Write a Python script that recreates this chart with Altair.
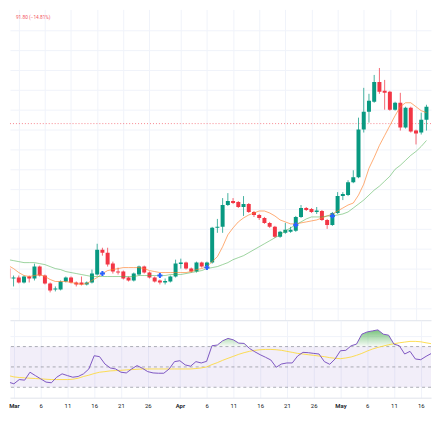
import altair as alt
import pandas as pd

# ---- data (daily candles, 2024-02-28 .. 2024-05-18) ----
dates = [d.strftime("%Y-%m-%d") for d in pd.date_range("2024-02-28", "2024-05-18", freq="D")]

open_ = [60, 50, 51, 46, 52, 50, 62, 53, 45, 39,
         39, 47, 51, 46, 46, 44, 46, 54, 79, 76,
         65, 57, 57, 51, 48, 54, 62, 56, 51, 48,
         46, 47, 52, 64.5, 66, 60, 57, 66, 62, 66,
         101, 102, 124, 128, 127, 122, 125, 117, 114, 111,
         106, 102, 92, 96, 97, 98, 112, 121, 120, 117,
         118, 109, 104, 116, 133, 134, 147, 152, 200, 218,
         228, 248, 239, 238, 220, 227, 202, 222, 199, 197,
         210]
high = [62, 53, 53, 53, 53, 65, 63, 54, 46, 42,
        48, 52, 52, 47, 52, 47, 59, 85, 81, 81,
        67, 61, 58, 52, 56, 63, 63, 57, 52, 49,
        50, 53, 69, 70, 67, 61, 67, 67, 67, 102,
        110, 131, 136, 131, 128, 133, 126, 118, 115, 112,
        107, 103, 98, 106, 102, 113, 124, 122, 121, 122,
        119, 110, 117, 137, 137, 149, 159, 212, 242, 236,
        255, 262, 250, 239, 228, 237, 223, 223, 200, 217,
        225]
low = [48, 42, 45, 45, 46, 48, 52, 44, 36, 37,
       38, 46, 45, 42, 43, 43, 45, 53, 73, 62,
       55, 54, 49, 47, 47, 53, 55, 50, 46, 44,
       44, 46, 51, 60, 59, 56, 56, 61, 61, 65,
       96, 96, 123, 125, 121, 113, 116, 112, 109, 105,
       101, 91, 91, 95, 96, 97, 111, 118, 116, 115,
       108, 100, 103, 115, 129, 133, 146, 151, 197, 207,
       227, 236, 220, 219, 219, 199, 201, 197, 185, 195,
       199]
close = [50, 51, 46, 52, 50, 62, 53, 45, 38, 40,
         47, 51, 46, 44, 44, 46, 55, 79, 76, 64,
         57, 56, 50, 48, 55, 62, 56, 51, 47, 46,
         47.5, 52, 65, 66, 60, 57, 66, 62, 66, 101,
         102, 124, 128, 126, 122, 125, 117, 114, 111, 106,
         102, 92, 97, 99, 99, 112, 121, 119, 117, 118.5,
         109, 104, 116, 133, 135, 147, 152, 200, 218, 229,
         248, 238, 237, 220, 227, 202, 222, 198, 196, 210,
         223]
ma_fast = [63, 60, 56, 53, 52, 53, 54, 52, 49, 47,
           47, 47, 46, 45, 44, 45, 48, 51, 55, 58,
           59, 60, 61, 61, 61, 61, 60, 58, 57, 56,
           56, 56, 56, 56, 56, 57, 59, 60, 62, 67,
           72, 82, 94, 101, 107, 111, 114, 116, 118, 118,
           116, 113, 109, 107, 105, 105, 106, 107, 108, 109,
           111, 113, 115, 118, 121, 124, 126, 134, 145, 161,
           172, 184, 194, 204, 214, 223, 227, 227, 223, 219,
           217]
ma_slow = [69, 68, 67, 66, 66, 66, 65, 64, 62, 60,
           59, 57, 56, 55, 54, 53, 52, 52, 52, 52,
           52, 52, 52, 52, 52, 53, 53, 53, 53, 53,
           53, 54, 54, 54, 55, 56, 57, 58, 60, 61,
           62, 64, 66, 69, 71, 73, 76, 79, 82, 85,
           88, 91, 94, 98, 101, 104, 107, 110, 112, 112,
           112, 113, 113, 114, 115, 117, 121, 125, 129, 134,
           139, 143, 148, 153, 160, 164, 169, 174, 178, 183,
           189]
rsi = [35.4, 35.1, 33.4, 37.6, 37.0, 44.8, 41.5, 38.3, 35.1, 34.4,
       39.9, 43.2, 41.5, 39.9, 40.6, 43.2, 48.0, 61.0, 60.1, 52.9,
       49.0, 48.0, 44.8, 44.1, 48.0, 51.3, 48.7, 45.4, 44.1, 43.8,
       43.8, 48.0, 55.2, 56.1, 52.0, 50.7, 55.2, 53.9, 55.5, 70.8,
       71.5, 75.7, 78.0, 76.6, 73.4, 73.1, 68.2, 64.9, 62.0, 59.5,
       56.8, 49.7, 52.9, 53.9, 53.9, 60.7, 64.3, 64.0, 63.3, 62.7,
       55.2, 52.6, 57.8, 65.9, 66.3, 70.8, 72.4, 82.2, 84.4, 85.4,
       86.4, 82.2, 81.2, 72.4, 70.8, 62.7, 65.3, 57.8, 57.1, 60.4,
       63.3]
rsi_ma = [42.9, 41.5, 40.2, 39.6, 39.3, 38.9, 38.6, 38.3, 37.9, 37.6,
          37.6, 37.6, 37.6, 37.9, 38.9, 40.6, 41.9, 43.5, 44.8, 45.4,
          46.1, 46.4, 46.7, 47.1, 47.4, 47.7, 48.0, 48.0, 48.0, 48.0,
          48.0, 48.0, 48.0, 48.0, 48.0, 48.0, 48.4, 49.0, 50.0, 52.3,
          54.2, 56.5, 58.5, 60.4, 62.4, 64.0, 65.3, 66.3, 66.9, 67.2,
          67.2, 66.9, 66.3, 65.3, 64.3, 63.3, 62.7, 62.0, 61.4, 60.7,
          60.1, 59.1, 58.5, 58.1, 58.8, 59.8, 61.4, 63.3, 65.6, 67.6,
          69.2, 70.5, 71.8, 72.8, 73.7, 74.4, 75.1, 75.1, 74.7, 73.7,
          72.8]

cross_dates = ["2024-03-17", "2024-03-28", "2024-04-06", "2024-04-23", "2024-04-30"]
cross_values = [55, 53, 61, 104, 113]

last_price = [206]
header_date = ["2024-02-29T06:25:00Z"]
header_price = [312]
header_text = ["91.80 (\u221214.81%)"]

tick_dates = ["2024-03-01", "2024-03-06", "2024-03-11", "2024-03-16", "2024-03-21", "2024-03-26",
              "2024-04-01", "2024-04-06", "2024-04-11", "2024-04-16", "2024-04-21", "2024-04-26",
              "2024-05-01", "2024-05-06", "2024-05-11", "2024-05-16"]
price_grid = list(range(20, 320, 20))
rsi_levels = [70, 50, 30]

# ---- chart ----
GREEN = "#089981"
RED = "#f23645"
GRID = "#f0f3fa"
FONT = "Roboto"

df = pd.DataFrame({"date": dates, "open": open_, "high": high, "low": low, "close": close,
                   "ma_fast": ma_fast, "ma_slow": ma_slow, "rsi": rsi, "rsi_ma": rsi_ma})
crosses = pd.DataFrame({"date": cross_dates, "value": cross_values})
price_line = pd.DataFrame({"price": last_price})
header = pd.DataFrame({"date": header_date, "price": header_price, "label": header_text})
band = pd.DataFrame({"top": [70], "bottom": [30]})
levels = pd.DataFrame({"level": rsi_levels})


def dt(s):
    y, m, d = (int(v) for v in s.split("-"))
    return alt.DateTime(year=y, month=m, date=d, utc=True)


ticks = [dt(s) for s in tick_dates]
x_scale = alt.Scale(type="utc", nice=False,
                    domain=[alt.DateTime(year=2024, month=2, date=29, hours=6, minutes=25, utc=True),
                            alt.DateTime(year=2024, month=5, date=17, hours=22, minutes=5, utc=True)])

x_top = alt.X("date:T", scale=x_scale, title=None,
              axis=alt.Axis(values=ticks, labels=False, ticks=False, grid=True, gridColor=GRID,
                            domain=True, domainColor="#e0e3eb"))
y_price_scale = alt.Scale(domain=[8, 321], nice=False, zero=False)
y_axis = alt.Axis(values=price_grid, labels=False, ticks=False, domain=False, grid=True,
                  gridColor=GRID, title=None)

candle_color = alt.when(alt.datum.close >= alt.datum.open).then(alt.value(GREEN)).otherwise(alt.value(RED))

base = alt.Chart(df)
wicks = base.mark_rule(strokeWidth=1, clip=True, opacity=0.75).encode(
    x=x_top,
    y=alt.Y("low:Q", scale=y_price_scale, axis=y_axis),
    y2="high:Q",
    color=candle_color,
)
bodies = base.mark_bar(size=4, clip=True).encode(
    x=x_top,
    y=alt.Y("open:Q", scale=y_price_scale, axis=y_axis),
    y2="close:Q",
    color=candle_color,
)
fast_line = base.mark_line(strokeWidth=1, clip=True, color="#ff7f2a", opacity=0.65).encode(
    x=x_top, y=alt.Y("ma_fast:Q", scale=y_price_scale, axis=y_axis))
slow_line = base.mark_line(strokeWidth=1, clip=True, color="#4caf50", opacity=0.55).encode(
    x=x_top, y=alt.Y("ma_slow:Q", scale=y_price_scale, axis=y_axis))
cross_marks = alt.Chart(crosses).mark_point(shape="cross", filled=True, size=26, color="#2962ff",
                                             opacity=1, clip=True).encode(
    x=x_top, y=alt.Y("value:Q", scale=y_price_scale, axis=y_axis))
last_rule = alt.Chart(price_line).mark_rule(color=RED, strokeDash=[1, 2], opacity=0.6, strokeWidth=1).encode(
    y=alt.Y("price:Q", scale=y_price_scale, axis=y_axis))
header_txt = alt.Chart(header).mark_text(align="left", baseline="middle", fontSize=4.8, font=FONT,
                                         color=RED, opacity=0.85, dx=1).encode(
    x=x_top, y=alt.Y("price:Q", scale=y_price_scale, axis=y_axis), text="label:N")

price_panel = alt.layer(last_rule, wicks, bodies, fast_line, slow_line, cross_marks, header_txt).properties(
    width=424, height=313)

# RSI panel
label_expr = "utcdate(datum.value) == 1 ? utcFormat(datum.value, '%b') : utcFormat(datum.value, '%-d')"
x_bot = alt.X("date:T", scale=x_scale, title=None,
              axis=alt.Axis(values=ticks, labelExpr=label_expr, ticks=False, grid=True, gridColor=GRID,
                            domain=True, domainColor="#e0e3eb", labelFontSize=6, labelFont=FONT,
                            labelColor="#131722", labelPadding=5, labelFlush=False,
                            labelFontWeight={"condition": {"test": "utcdate(datum.value) == 1", "value": 600},
                                             "value": 400}))
y_rsi_scale = alt.Scale(domain=[19.8, 95.9], nice=False, zero=False)
y_rsi_axis = alt.Axis(values=[80], labels=False, ticks=False, domain=False, grid=True, gridColor=GRID,
                      title=None)

band_rect = alt.Chart(band).mark_rect(color="#7e57c2", opacity=0.1).encode(
    y=alt.Y("top:Q", scale=y_rsi_scale, axis=y_rsi_axis), y2="bottom:Q")
level_rules = alt.Chart(levels).mark_rule(color="#787b86", strokeDash=[3, 3], opacity=0.6, strokeWidth=1).encode(
    y=alt.Y("level:Q", scale=y_rsi_scale, axis=y_rsi_axis))
ob_fill = base.transform_calculate(ob="max(datum.rsi, 70)", base="70").mark_area(
    clip=True, opacity=0.75,
    color=alt.Gradient(gradient="linear",
                       stops=[alt.GradientStop(color="#4caf50", offset=0),
                              alt.GradientStop(color="rgba(76,175,80,0.05)", offset=1)],
                       x1=1, x2=1, y1=0, y2=1)).encode(
    x=x_bot, y=alt.Y("ob:Q", scale=y_rsi_scale, axis=y_rsi_axis), y2="base:Q")
rsi_ma_line = base.mark_line(strokeWidth=1, clip=True, color="#fdd835", opacity=0.85).encode(
    x=x_bot, y=alt.Y("rsi_ma:Q", scale=y_rsi_scale, axis=y_rsi_axis))
rsi_line = base.mark_line(strokeWidth=1, clip=True, color="#7e57c2").encode(
    x=x_bot, y=alt.Y("rsi:Q", scale=y_rsi_scale, axis=y_rsi_axis))

rsi_panel = alt.layer(band_rect, level_rules, ob_fill, rsi_ma_line, rsi_line).properties(width=424, height=78)

chart = alt.vconcat(price_panel, rsi_panel, spacing=0).properties(padding=0).configure_view(stroke=None)

chart.save("out.html", embed_options={"renderer": "svg", "actions": False})
